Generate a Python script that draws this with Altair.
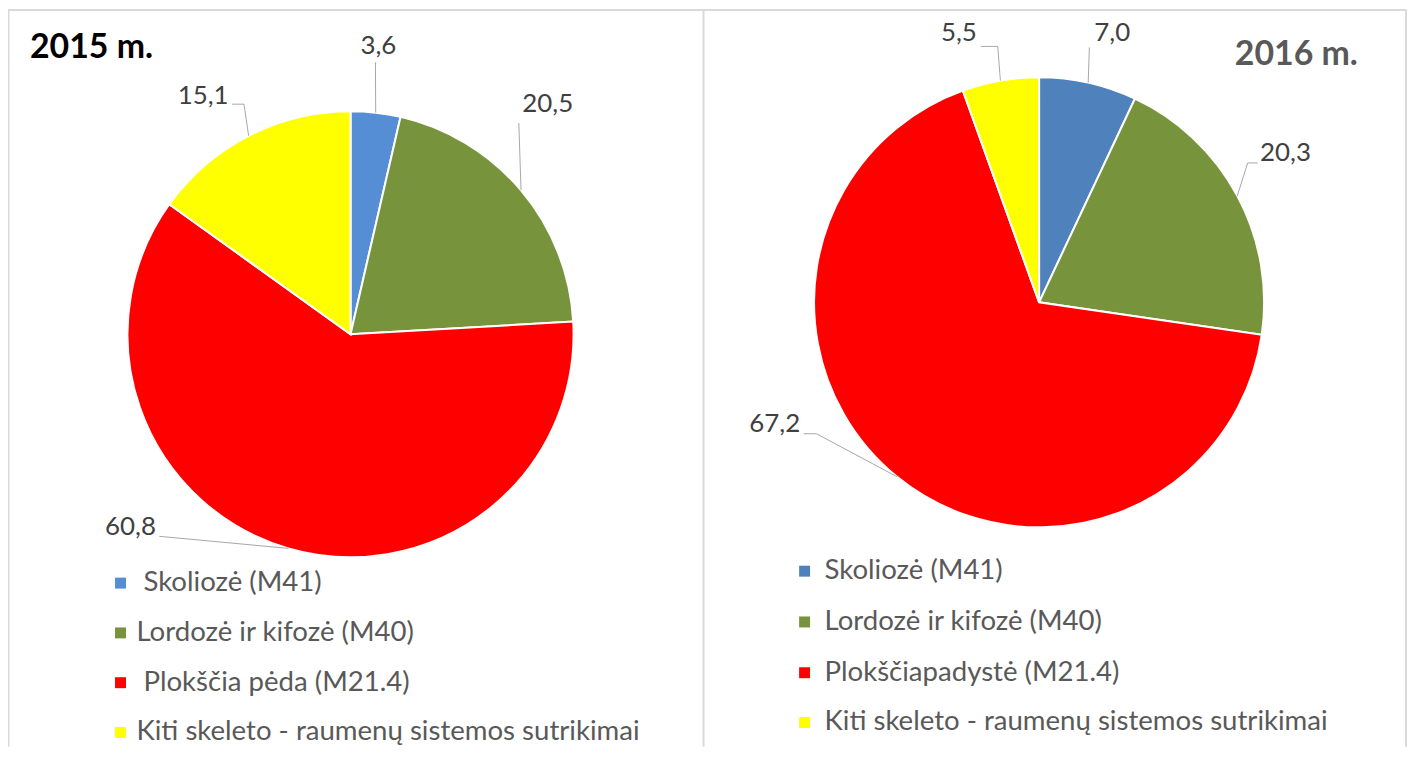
import math
import altair as alt
import pandas as pd

# ---------------- data ----------------
categories_2015 = ["Skoliozė (M41)", "Lordozė ir kifozė (M40)",
                   "Plokščia pėda (M21.4)", "Kiti skeleto - raumenų sistemos sutrikimai"]
categories_2016 = ["Skoliozė (M41)", "Lordozė ir kifozė (M40)",
                   "Plokščiapadystė (M21.4)", "Kiti skeleto - raumenų sistemos sutrikimai"]
values_2015 = [3.6, 20.5, 60.8, 15.1]
values_2016 = [7.0, 20.3, 67.2, 5.5]
labels_2015 = ["3,6", "20,5", "60,8", "15,1"]
labels_2016 = ["7,0", "20,3", "67,2", "5,5"]
colors_2015 = ["#558ED5", "#77933C", "#FF0000", "#FFFF00"]
colors_2016 = ["#4F81BD", "#77933C", "#FF0000", "#FFFF00"]
titles = ["2015 m.", "2016 m."]

# ---------------- layout ----------------
W, H = 1408, 740
FONT = "Lato"
panels = [
    dict(cx=344, cy=326, r=224,
         text_pos=[(372, 37), (542, 95), (123, 520), (196, 87)],
         leader=[[(369, 53)], [(513, 114)], [(152, 529)], [(237, 95), (225, 95)]],
         legend_sq_x=113, legend_txt_x=[136, 129, 136, 129], legend_y=[576, 626, 676, 726],
         title_pos=(22, 39), title_color="#000000"),
    dict(cx=1035.5, cy=294, r=226,
         text_pos=[(1109, 24), (1283, 144), (770, 416), (955, 24)],
         leader=[[(1086, 38)], [(1245, 154), (1255, 154)], [(812, 426), (799, 426)], [(994, 37), (977, 37)]],
         legend_sq_x=800, legend_txt_x=[820, 820, 820, 820], legend_y=[564, 615, 666, 716],
         title_pos=(1232, 46), title_color="#595959"),
]
series = [
    (categories_2015, values_2015, labels_2015, colors_2015),
    (categories_2016, values_2016, labels_2016, colors_2016),
]

xs = alt.Scale(domain=[0, W], nice=False, zero=False)
ys = alt.Scale(domain=[0, H], nice=False, zero=False, reverse=True)

layers = []
lab_rows, lead_rows, leg_rows, title_rows = [], [], [], []
for p_i, ((cats, vals, labs, cols), p) in enumerate(zip(series, panels)):
    pie_df = pd.DataFrame({"cat": cats, "value": vals, "color": cols, "idx": range(len(vals))})
    layers.append(
        alt.Chart(pie_df).mark_arc(outerRadius=p["r"], stroke="white", strokeWidth=2).encode(
            theta=alt.Theta("value:Q", stack=True),
            color=alt.Color("color:N", scale=None),
            order=alt.Order("idx:Q"),
            x=alt.value(p["cx"]), y=alt.value(p["cy"]),
        )
    )
    total = sum(vals)
    cum = 0.0
    for i, v in enumerate(vals):
        mid = (cum + v / 2) / total * 2 * math.pi
        cum += v
        ex = p["cx"] + p["r"] * math.sin(mid)
        ey = p["cy"] - p["r"] * math.cos(mid)
        key = f"{p_i}-{i}"
        pts = [(ex, ey)] + p["leader"][i]
        for k, (lx, ly) in enumerate(pts):
            lead_rows.append({"key": key, "k": k, "x": lx, "y": ly})
        tx, ty = p["text_pos"][i]
        lab_rows.append({"x": tx, "y": ty, "text": labs[i]})
        leg_rows.append({"sx": p["legend_sq_x"], "tx": p["legend_txt_x"][i], "y": p["legend_y"][i],
                         "name": cats[i], "color": cols[i]})
    title_rows.append({"x": p["title_pos"][0], "y": p["title_pos"][1], "text": titles[p_i],
                       "color": p["title_color"]})

lead_df = pd.DataFrame(lead_rows)
lab_df = pd.DataFrame(lab_rows)
leg_df = pd.DataFrame(leg_rows)
title_df = pd.DataFrame(title_rows)

leaders = alt.Chart(lead_df).mark_line(color="#A6A6A6", strokeWidth=1).encode(
    x=alt.X("x:Q", scale=xs, axis=None),
    y=alt.Y("y:Q", scale=ys, axis=None),
    detail="key:N", order="k:Q",
)
labels = alt.Chart(lab_df).mark_text(font=FONT, fontSize=26, color="#404040",
                                     align="center", baseline="middle").encode(
    x=alt.X("x:Q", scale=xs, axis=None), y=alt.Y("y:Q", scale=ys, axis=None), text="text:N")
leg_sq = alt.Chart(leg_df).mark_square(size=121, opacity=1).encode(
    x=alt.X("sx:Q", scale=xs, axis=None), y=alt.Y("y:Q", scale=ys, axis=None),
    color=alt.Color("color:N", scale=None))
leg_tx = alt.Chart(leg_df).mark_text(font=FONT, fontSize=27.7, color="#595959",
                                     align="left", baseline="middle").encode(
    x=alt.X("tx:Q", scale=xs, axis=None), y=alt.Y("y:Q", scale=ys, axis=None), text="name:N")
title_tx = alt.Chart(title_df).mark_text(font=FONT, fontSize=34, fontWeight="bold",
                                         align="left", baseline="middle").encode(
    x=alt.X("x:Q", scale=xs, axis=None), y=alt.Y("y:Q", scale=ys, axis=None), text="text:N",
    color=alt.Color("color:N", scale=None))

border_col = "#D9D9D9"
borders = [
    alt.Chart(pd.DataFrame({"a": [0]})).mark_rule(color=border_col, strokeWidth=2).encode(
        x=alt.value(0), x2=alt.value(1404), y=alt.value(0.5)),
    alt.Chart(pd.DataFrame({"a": [0]})).mark_rule(color=border_col, strokeWidth=2).encode(
        x=alt.value(0.5), y=alt.value(0), y2=alt.value(H)),
    alt.Chart(pd.DataFrame({"a": [0]})).mark_rule(color=border_col, strokeWidth=2).encode(
        x=alt.value(698.5), y=alt.value(0), y2=alt.value(H)),
    alt.Chart(pd.DataFrame({"a": [0]})).mark_rule(color=border_col, strokeWidth=2).encode(
        x=alt.value(1404), y=alt.value(0), y2=alt.value(H)),
]

chart = alt.layer(*borders, *layers, leaders, labels, leg_sq, leg_tx, title_tx).resolve_scale(
    theta="independent"
).properties(
    width=W, height=H, padding=0, autosize=alt.AutoSizeParams(type="none")
).configure_view(stroke=None)

chart.save("out.html", embed_options={"renderer": "svg", "actions": False})
